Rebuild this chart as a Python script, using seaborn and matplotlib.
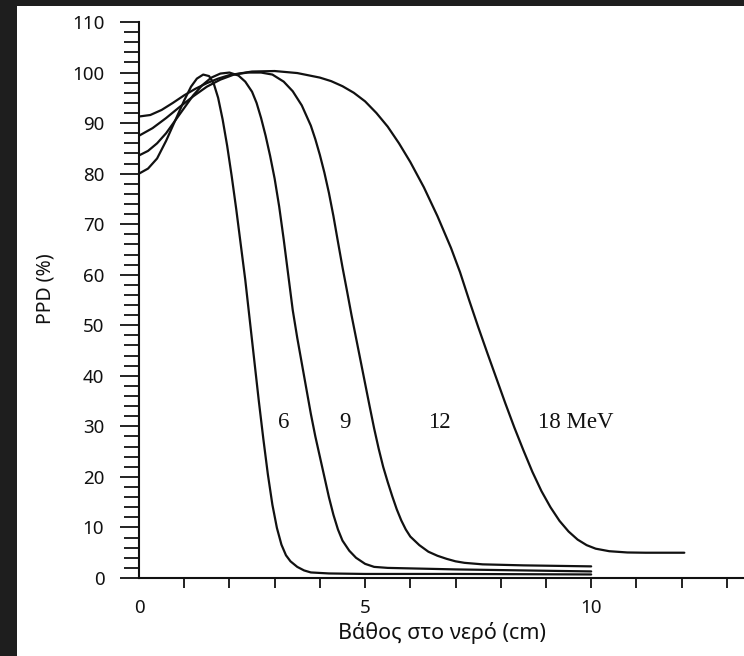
import numpy as np
import pandas as pd
import matplotlib
matplotlib.use('Agg')
import matplotlib.pyplot as plt
from matplotlib.patches import Rectangle
from matplotlib.ticker import MultipleLocator, FixedLocator
import seaborn as sns


# Depth dose curves (depth in cm, PPD in %)
depth_6 = [0.0, 0.2, 0.4, 0.6, 0.8, 1.0, 1.15, 1.28, 1.42, 1.55, 1.65, 1.75, 1.85, 1.95,
           2.05, 2.15, 2.25, 2.35, 2.45, 2.55, 2.65, 2.75, 2.85, 2.95, 3.05, 3.15, 3.25,
           3.35, 3.5, 3.65, 3.8, 4.2, 5.0, 7.0, 10.0]
ppd_6 = [80.0, 81.0, 83.0, 86.5, 90.5, 94.5, 97.2, 98.8, 99.6, 99.3, 97.9, 95.0, 90.7, 85.5,
         79.5, 73.0, 66.0, 59.0, 51.0, 43.0, 35.0, 27.5, 20.5, 14.5, 9.9, 6.6, 4.5,
         3.3, 2.2, 1.5, 1.1, 0.9, 0.8, 0.8, 0.7]

depth_9 = [0.0, 0.2, 0.4, 0.6, 0.8, 1.0, 1.2, 1.4, 1.6, 1.8, 2.0, 2.2, 2.35, 2.5,
           2.6, 2.7, 2.8, 2.9, 3.0, 3.1, 3.2, 3.3, 3.4, 3.5, 3.6, 3.7, 3.8, 3.9,
           4.0, 4.1, 4.2, 4.3, 4.4, 4.5, 4.65, 4.8, 5.0, 5.2, 5.5, 7.0, 10.0]
ppd_9 = [83.6, 84.5, 86.0, 88.0, 90.5, 93.0, 95.5, 97.5, 99.0, 99.8, 100.0, 99.4, 98.2, 96.2,
         94.0, 91.0, 87.5, 83.5, 79.0, 73.5, 67.0, 60.0, 53.0, 47.5, 42.5, 37.5, 32.5, 28.0,
         24.0, 20.0, 16.0, 12.5, 9.6, 7.4, 5.4, 4.0, 2.8, 2.2, 2.0, 1.7, 1.3]

depth_12 = [0.0, 0.3, 0.6, 0.9, 1.2, 1.5, 1.8, 2.1, 2.4, 2.7, 2.95, 3.2, 3.4, 3.6,
            3.8, 3.9, 4.0, 4.1, 4.2, 4.3, 4.4, 4.5, 4.6, 4.7, 4.8, 4.9, 5.0, 5.1, 5.2,
            5.3, 5.4, 5.5, 5.6, 5.7, 5.8, 5.9, 6.0, 6.2, 6.4, 6.6, 6.8, 7.0, 7.2,
            7.6, 8.5, 10.0]
ppd_12 = [87.5, 89.0, 91.0, 93.2, 95.3, 97.2, 98.6, 99.6, 100.0, 100.0, 99.6, 98.2, 96.3, 93.5,
          89.5, 86.8, 83.7, 80.2, 76.2, 71.6, 66.5, 61.5, 56.8, 52.0, 47.5, 43.0, 38.5, 34.0,
          29.6, 25.6, 22.0, 19.0, 16.2, 13.6, 11.4, 9.6, 8.2, 6.5, 5.2, 4.4, 3.8, 3.3, 3.0,
          2.7, 2.5, 2.3]

depth_18 = [0.0, 0.25, 0.5, 0.75, 1.0, 1.25, 1.5, 1.75, 2.0, 2.5, 3.0, 3.5, 4.0, 4.25,
            4.5, 4.75, 5.0, 5.25, 5.5, 5.75, 6.0, 6.3, 6.6, 6.9, 7.1, 7.3, 7.5, 7.7,
            7.9, 8.1, 8.3, 8.5, 8.7, 8.9, 9.1, 9.3, 9.5, 9.7, 9.9, 10.1, 10.4, 10.8,
            11.2, 12.06]
ppd_18 = [91.3, 91.6, 92.6, 94.0, 95.5, 96.8, 97.9, 98.8, 99.5, 100.2, 100.3, 99.9, 99.0, 98.3,
          97.3, 96.0, 94.3, 92.0, 89.3, 86.0, 82.3, 77.3, 71.6, 65.3, 60.5, 55.0, 49.7, 44.6,
          39.6, 34.6, 29.8, 25.3, 21.0, 17.2, 14.0, 11.3, 9.2, 7.6, 6.5, 5.8, 5.3, 5.05,
          5.0, 5.0]

energies = ['6', '9', '12', '18 MeV']
x_tick_labels = ['0', '5', '10']


frames = []
for name, d, p in zip(energies,
                      [depth_6, depth_9, depth_12, depth_18],
                      [ppd_6, ppd_9, ppd_12, ppd_18]):
    frames.append(pd.DataFrame({'depth': d, 'ppd': p, 'energy': name}))
df = pd.concat(frames, ignore_index=True)


sns.set_style('ticks')
plt.rcParams['font.family'] = ['Noto Sans', 'DejaVu Sans']

fig = plt.figure(figsize=(7.44, 6.56), dpi=100, facecolor='#1e1e1e')
# white scanned page, dark scanner border on top and left
fig.patches.append(Rectangle((17 / 744, 0), 1, (656 - 6) / 656,
                             transform=fig.transFigure, facecolor='white',
                             edgecolor='none', zorder=-10))

ax = fig.add_axes([139 / 744, 78 / 656, 1 - 139 / 744, (578 - 22) / 656])
ax.set_facecolor('none')

sns.lineplot(data=df, x='depth', y='ppd', hue='energy', palette=['#111111'] * 4,
             estimator=None, sort=False, legend=False, linewidth=1.6, ax=ax)

ax.set_xlim(0, 13.38)
ax.set_ylim(0, 110)

for side in ['top', 'right']:
    ax.spines[side].set_visible(False)
for side in ['left', 'bottom']:
    ax.spines[side].set_linewidth(1.5)
    ax.spines[side].set_color('#111111')

# x axis: unlabeled cm ticks, labels at 0, 5, 10
ax.xaxis.remove_overlapping_locs = False
ax.xaxis.set_major_locator(FixedLocator([0, 5, 10]))
ax.set_xticklabels(x_tick_labels)
ax.xaxis.set_minor_locator(FixedLocator(np.arange(1, 14)))
ax.tick_params(axis='x', which='major', length=0, pad=15, labelsize=13.5,
               labelcolor='#111111')
ax.tick_params(axis='x', which='minor', length=7, width=1.3, direction='out', color='#111111')

# y axis: labels every 10, ticks every 2
ax.yaxis.set_major_locator(MultipleLocator(10))
ax.yaxis.set_minor_locator(MultipleLocator(2))
ax.tick_params(axis='y', which='major', length=14, width=1.3, pad=11, labelsize=13.5,
               color='#111111', labelcolor='#111111')
ax.tick_params(axis='y', which='minor', length=11, width=1.3, color='#111111')

ax.set_xlabel('Βάθος στο νερό (cm)', fontsize=15.5, labelpad=4, color='#111111')
ax.set_ylabel('PPD (%)', fontsize=14, color='#111111')
ax.yaxis.set_label_coords(-0.138, 0.52)

# curve labels
label_x = [3.19, 4.56, 6.64, 9.65]
for name, lx in zip(energies, label_x):
    ax.text(lx, 30.7, name, ha='center', va='center', fontsize=16.5,
            family=['Liberation Serif', 'DejaVu Serif'], color='#111111')

fig.savefig('out.png', dpi=100, facecolor=fig.get_facecolor())
